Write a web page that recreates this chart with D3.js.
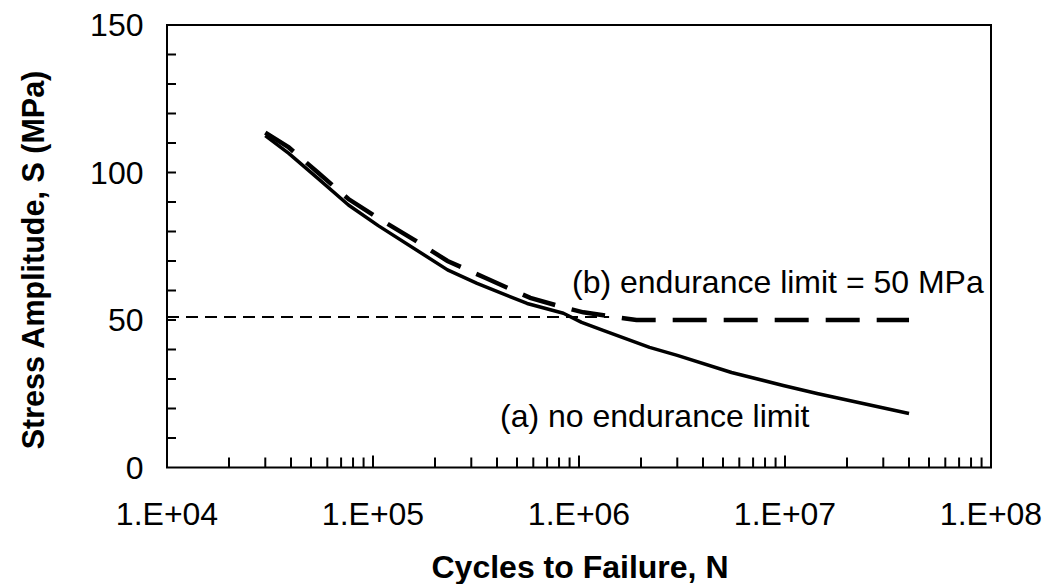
<!DOCTYPE html>
<html>
<head>
<meta charset="utf-8">
<script src="https://cdn.jsdelivr.net/npm/d3@7"></script>
<style>
  html, body { margin: 0; padding: 0; background: #fff; }
  svg { display: block; font-family: "Liberation Sans", Arial, sans-serif; }
</style>
</head>
<body>
<svg id="chart" width="1044" height="584"></svg>
<script>
// S-N curve (a): no endurance limit
const cyclesA = [3.0e4, 3.9e4, 5.4e4, 7.6e4, 1.06e5, 2.3e5, 3.2e5, 5.6e5, 8.4e5, 1.03e6, 1.31e6, 2.2e6, 3.0e6, 5.5e6, 9.8e6, 1.43e7, 4.0e7];
const stressA = [112.5, 106.5, 98, 89, 82, 67, 62.4, 55.6, 52.3, 49.2, 46.5, 40.7, 38.0, 32.2, 27.8, 25.1, 18.3];

// S-N curve (b): levels off at the endurance limit
const cyclesB = [3.0e4, 3.9e4, 5.4e4, 7.6e4, 1.06e5, 1.6e5, 2.3e5, 3.5e5, 5.8e5, 8.4e5, 1.05e6, 1.4e6, 1.9e6, 4.0e6, 1.0e7, 4.0e7];
const stressB = [113.5, 108.5, 100, 91, 84.5, 77, 70, 64.3, 57.5, 54.3, 52.6, 51.3, 50, 50, 50, 50];

// reference line at the endurance limit
const limitCycles = [1e4, 1.4e6];
const limitStress = [51, 51];

const xTickValues = [1e4, 1e5, 1e6, 1e7, 1e8];
const xTickLabels = ["1.E+04", "1.E+05", "1.E+06", "1.E+07", "1.E+08"];
const yTickValues = [0, 50, 100, 150];
const yTickLabels = ["0", "50", "100", "150"];

const svg = d3.select("#chart");
const plotLeft = 167, plotRight = 991, plotTop = 25, plotBottom = 467.5;

const x = d3.scaleLog().domain([1e4, 1e8]).range([plotLeft, plotRight]);
const y = d3.scaleLinear().domain([0, 150]).range([plotBottom, plotTop]);

// minor ticks: x at 2..9 of each decade, y every 10 MPa
const xMinor = [];
for (let e = 4; e < 8; e++) for (let m = 2; m <= 9; m++) xMinor.push(m * Math.pow(10, e));
const yMinor = d3.range(10, 150, 10);

const g = svg.append("g");

// x ticks (pointing into the plot)
g.selectAll(".xminor").data(xMinor).join("line")
  .attr("class", "xminor")
  .attr("x1", d => x(d)).attr("x2", d => x(d))
  .attr("y1", plotBottom).attr("y2", plotBottom - 10)
  .attr("stroke", "#000").attr("stroke-width", 2);
g.selectAll(".xmajor").data(xTickValues).join("line")
  .attr("class", "xmajor")
  .attr("x1", d => x(d)).attr("x2", d => x(d))
  .attr("y1", plotBottom).attr("y2", plotBottom - 12)
  .attr("stroke", "#000").attr("stroke-width", 2);

// y ticks
g.selectAll(".yminor").data(yMinor).join("line")
  .attr("class", "yminor")
  .attr("x1", plotLeft).attr("x2", plotLeft + 9)
  .attr("y1", d => y(d)).attr("y2", d => y(d))
  .attr("stroke", "#000").attr("stroke-width", 2);

// tick labels
g.selectAll(".xlab").data(xTickValues).join("text")
  .attr("class", "xlab")
  .attr("x", d => x(d)).attr("y", 525)
  .attr("text-anchor", "middle")
  .attr("font-size", 32)
  .attr("fill", "#000")
  .text((d, i) => xTickLabels[i]);
g.selectAll(".ylab").data(yTickValues).join("text")
  .attr("class", "ylab")
  .attr("x", 143.5).attr("y", d => y(d) + 11)
  .attr("text-anchor", "end")
  .attr("font-size", 32)
  .attr("fill", "#000")
  .text((d, i) => yTickLabels[i]);

// axis titles
svg.append("text")
  .attr("x", 580).attr("y", 578)
  .attr("text-anchor", "middle")
  .attr("font-size", 32).attr("font-weight", "bold")
  .text("Cycles to Failure, N");
svg.append("text")
  .attr("transform", "translate(44,260) rotate(-90)")
  .attr("text-anchor", "middle")
  .attr("font-size", 30.5).attr("font-weight", "bold")
  .text("Stress Amplitude, S (MPa)");

const line = d3.line().x(d => x(d[0])).y(d => y(d[1]));

// endurance limit reference
svg.append("path")
  .datum(d3.zip(limitCycles, limitStress))
  .attr("d", line)
  .attr("fill", "none").attr("stroke", "#000")
  .attr("stroke-width", 2).attr("stroke-dasharray", "12,7");

// curve (b)
svg.append("path")
  .datum(d3.zip(cyclesB, stressB))
  .attr("d", line)
  .attr("fill", "none").attr("stroke", "#000")
  .attr("stroke-width", 4.5).attr("stroke-dasharray", "34,17");

// curve (a)
svg.append("path")
  .datum(d3.zip(cyclesA, stressA))
  .attr("d", line)
  .attr("fill", "none").attr("stroke", "#000")
  .attr("stroke-width", 3.5).attr("stroke-linejoin", "round");

// plot frame
svg.append("rect")
  .attr("x", plotLeft).attr("y", plotTop)
  .attr("width", plotRight - plotLeft).attr("height", plotBottom - plotTop)
  .attr("fill", "none").attr("stroke", "#000").attr("stroke-width", 2);

// curve labels
svg.append("text")
  .attr("x", 572).attr("y", 293)
  .attr("font-size", 32)
  .text("(b) endurance limit = 50 MPa");
svg.append("text")
  .attr("x", 500).attr("y", 427)
  .attr("font-size", 32)
  .text("(a) no endurance limit");
</script>
</body>
</html>
